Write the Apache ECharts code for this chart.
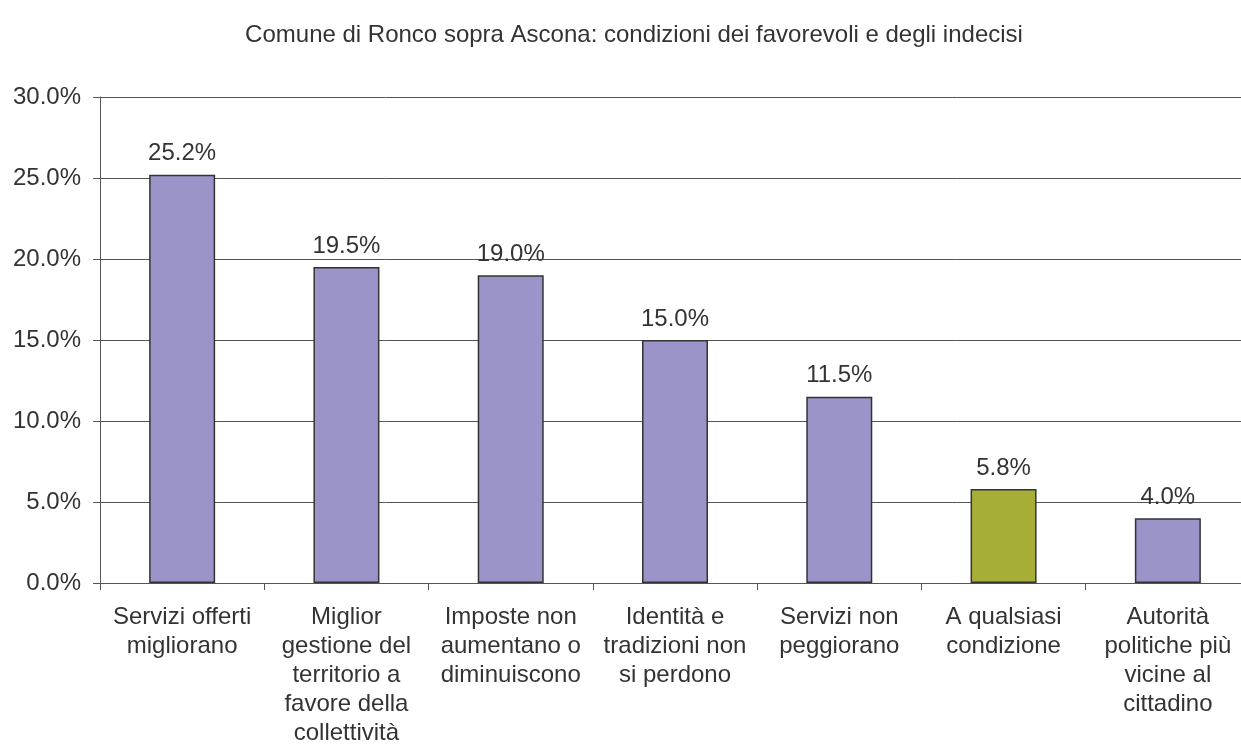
<!DOCTYPE html>
<html lang="it">
<head>
    <meta charset="UTF-8">
    <title>Ronco sopra Ascona</title>
    <script src="https://cdn.jsdelivr.net/npm/echarts@6/dist/echarts.min.js"></script>
    <style>
        html, body { margin: 0; padding: 0; background: #fff; }
    </style>
</head>
<body>
<div id="main" style="width: 1241px; height: 749px"></div>
<script type="text/javascript">
    var categories = [
        'Servizi offerti\nmigliorano',
        'Miglior\ngestione del\nterritorio a\nfavore della\ncollettività',
        'Imposte non\naumentano o\ndiminuiscono',
        'Identità e\ntradizioni non\nsi perdono',
        'Servizi non\npeggiorano',
        'A qualsiasi\ncondizione',
        'Autorità\npolitiche più\nvicine al\ncittadino'
    ];
    var values = [25.2, 19.5, 19.0, 15.0, 11.5, 5.8, 4.0];
    // the "any condition" bar is drawn in green
    var highlight = [false, false, false, false, false, true, false];

    var myChart = echarts.init(document.getElementById('main'));

    var barData = values.map(function (v, i) {
        return {
            value: v,
            itemStyle: { color: highlight[i] ? '#a6ae38' : '#9a94c8' }
        };
    });

    option = {
        animation: false,
        backgroundColor: '#fff',
        textStyle: { fontFamily: 'Liberation Sans, Arial, sans-serif' },
        title: {
            text: 'Comune di Ronco sopra Ascona: condizioni dei favorevoli e degli indecisi',
            left: 629,
            textAlign: 'center',
            top: 18,
            textStyle: { fontSize: 24, fontWeight: 'normal', color: '#333' }
        },
        // plot area runs a little past the right edge of the picture
        grid: { left: 100, width: 1150, top: 97, height: 486, outerBoundsMode: 'none' },
        xAxis: {
            type: 'category',
            data: categories,
            axisLine: { lineStyle: { color: '#555', width: 1 } },
            axisTick: { show: true, length: 7, alignWithLabel: false, lineStyle: { color: '#555' } },
            axisLabel: { color: '#333', fontSize: 24, lineHeight: 29, margin: 20, interval: 0 }
        },
        yAxis: {
            type: 'value',
            min: 0,
            max: 30,
            interval: 5,
            axisLine: { show: true, lineStyle: { color: '#555', width: 1 } },
            axisTick: { show: true, length: 7, inside: false, lineStyle: { color: '#555' } },
            splitLine: { lineStyle: { color: '#555', width: 1 } },
            axisLabel: {
                color: '#333', fontSize: 24, margin: 19,
                formatter: function (v) { return v.toFixed(1) + '%'; }
            }
        },
        series: [{
            type: 'bar',
            data: barData,
            barWidth: 66,
            itemStyle: { borderColor: '#333', borderWidth: 1.5 },
            label: {
                show: true,
                position: 'top',
                distance: 9,
                color: '#333',
                fontSize: 24,
                formatter: function (p) { return p.value.toFixed(1) + '%'; }
            }
        }]
    };

    myChart.setOption(option);
</script>
</body>
</html>
